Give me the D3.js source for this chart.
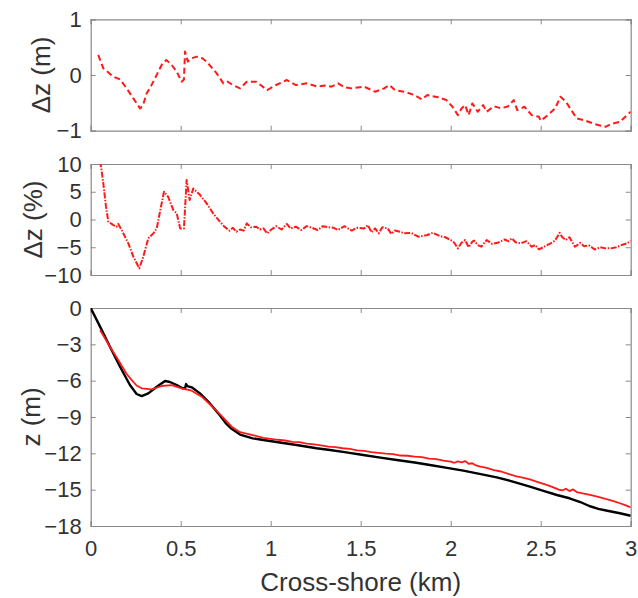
<!DOCTYPE html>
<html>
<head>
<meta charset="utf-8">
<script src="https://cdn.jsdelivr.net/npm/d3@7"></script>
<style>
	body { margin: 0; background: #fff; }
	svg { display: block; font-family: "Liberation Sans", Arial, sans-serif; }
</style>
</head>
<body>
<svg width="638" height="598"></svg>
<script>
// top panel: elevation difference (m)
const dzMetreKm = [0.042, 0.07, 0.1, 0.126, 0.163, 0.2, 0.237, 0.274, 0.29, 0.311, 0.335, 0.357, 0.394, 0.42, 0.45, 0.478, 0.49, 0.505, 0.518, 0.524, 0.54, 0.56, 0.589, 0.62, 0.644, 0.7, 0.737, 0.76, 0.79, 0.83, 0.867, 0.92, 0.98, 1.03, 1.09, 1.14, 1.2, 1.26, 1.3, 1.337, 1.374, 1.41, 1.45, 1.52, 1.58, 1.63, 1.66, 1.69, 1.74, 1.8, 1.84, 1.87, 1.93, 1.976, 2.01, 2.04, 2.06, 2.08, 2.1, 2.12, 2.15, 2.18, 2.2, 2.24, 2.28, 2.32, 2.35, 2.37, 2.41, 2.45, 2.49, 2.5, 2.54, 2.58, 2.61, 2.64, 2.67, 2.7, 2.74, 2.8, 2.86, 2.89, 2.94, 2.98, 3.0];
const dzMetre = [0.36, 0.12, 0.04, -0.03, -0.08, -0.24, -0.42, -0.6, -0.55, -0.33, -0.2, -0.06, 0.18, 0.27, 0.18, 0.06, -0.02, -0.12, -0.08, 0.42, 0.24, 0.3, 0.33, 0.3, 0.24, 0.03, -0.15, -0.12, -0.18, -0.24, -0.12, -0.12, -0.27, -0.18, -0.09, -0.18, -0.15, -0.21, -0.19, -0.21, -0.15, -0.22, -0.24, -0.21, -0.3, -0.24, -0.18, -0.27, -0.3, -0.36, -0.44, -0.36, -0.4, -0.45, -0.57, -0.72, -0.6, -0.54, -0.72, -0.51, -0.66, -0.54, -0.66, -0.56, -0.6, -0.56, -0.45, -0.63, -0.57, -0.72, -0.75, -0.82, -0.72, -0.6, -0.39, -0.48, -0.63, -0.78, -0.81, -0.88, -0.93, -0.88, -0.84, -0.72, -0.66];

// middle panel: elevation difference (%)
const dzPctKm = [0.052, 0.06, 0.07, 0.085, 0.098, 0.126, 0.144, 0.153, 0.172, 0.209, 0.237, 0.27, 0.292, 0.32, 0.348, 0.367, 0.385, 0.407, 0.43, 0.459, 0.478, 0.497, 0.518, 0.533, 0.55, 0.57, 0.608, 0.644, 0.68, 0.718, 0.74, 0.755, 0.77, 0.79, 0.81, 0.83, 0.85, 0.867, 0.89, 0.92, 0.94, 0.96, 0.98, 1.0, 1.03, 1.06, 1.09, 1.11, 1.14, 1.17, 1.2, 1.23, 1.26, 1.29, 1.32, 1.35, 1.374, 1.41, 1.45, 1.48, 1.52, 1.54, 1.56, 1.58, 1.6, 1.62, 1.65, 1.67, 1.69, 1.72, 1.74, 1.78, 1.82, 1.87, 1.9, 1.94, 1.97, 2.0, 2.02, 2.04, 2.06, 2.08, 2.1, 2.12, 2.13, 2.15, 2.17, 2.2, 2.23, 2.26, 2.3, 2.32, 2.34, 2.36, 2.39, 2.42, 2.45, 2.47, 2.49, 2.52, 2.56, 2.58, 2.605, 2.62, 2.64, 2.66, 2.69, 2.72, 2.74, 2.77, 2.8, 2.83, 2.86, 2.89, 2.92, 2.95, 2.98, 3.0];
const dzPct = [10.5, 9, 6.5, 2.3, -0.4, -1, -1.3, -0.8, -1.9, -4.3, -6.7, -8.8, -6.7, -3.4, -2.5, -1.6, 1.4, 5, 4.1, 1.7, 1.1, -1.6, -1.6, 7.1, 3.5, 5.6, 4.4, 2.9, 1.1, -0.4, -1.2, -1.6, -2.0, -1.5, -2.2, -1.8, -2.0, -0.7, -1.4, -1.3, -1.8, -1.6, -2.5, -1.9, -1.2, -1.8, -0.8, -1.6, -1.3, -1.9, -1.2, -1.5, -1.9, -1.2, -1.4, -1.5, -1.9, -1.2, -2, -1.5, -1.6, -1.0, -2.3, -1.6, -2.5, -1.4, -1.6, -2.6, -2.0, -2.2, -2.5, -2.4, -3.1, -2.8, -2.4, -3, -3.2, -3.7, -4.2, -5.2, -4.2, -3.7, -5, -4.0, -3.8, -4.6, -4.9, -3.7, -4.4, -4.2, -3.6, -3.9, -3.4, -4.1, -4.3, -3.9, -4.9, -4.6, -5.4, -4.9, -4.2, -3.8, -2.4, -3.2, -3.7, -3.2, -4.9, -4.2, -4.8, -4.7, -5.4, -5.0, -5.2, -5.2, -5.0, -4.6, -4.3, -3.8];

// bottom panel: profiles z (m)
const zBlackKm = [0, 0.052, 0.107, 0.163, 0.218, 0.255, 0.283, 0.32, 0.367, 0.413, 0.44, 0.478, 0.51, 0.524, 0.53, 0.537, 0.561, 0.607, 0.654, 0.709, 0.75, 0.783, 0.83, 0.9, 0.959, 1.07, 1.144, 1.255, 1.33, 1.42, 1.514, 1.6, 1.7, 1.8, 1.885, 1.98, 2.07, 2.16, 2.256, 2.35, 2.44, 2.52, 2.59, 2.66, 2.72, 2.77, 2.82, 2.87, 2.94, 3.0];
const zBlack = [0, -1.54, -3.2, -4.85, -6.36, -7.1, -7.27, -7.05, -6.5, -6.03, -6.11, -6.36, -6.63, -6.63, -6.28, -6.45, -6.55, -7.05, -7.74, -8.7, -9.5, -9.98, -10.45, -10.76, -10.9, -11.15, -11.31, -11.58, -11.73, -11.92, -12.14, -12.33, -12.55, -12.76, -12.96, -13.2, -13.43, -13.7, -13.98, -14.35, -14.75, -15.12, -15.44, -15.71, -16.02, -16.35, -16.58, -16.74, -16.95, -17.15];
const zRedKm = [0.052, 0.107, 0.153, 0.2, 0.228, 0.255, 0.283, 0.339, 0.394, 0.45, 0.505, 0.561, 0.617, 0.672, 0.728, 0.783, 0.83, 0.9, 0.959, 1.0, 1.04, 1.08, 1.12, 1.16, 1.2, 1.24, 1.28, 1.32, 1.36, 1.4, 1.44, 1.48, 1.52, 1.56, 1.6, 1.64, 1.68, 1.72, 1.76, 1.8, 1.84, 1.88, 1.92, 1.96, 2.0, 2.02, 2.04, 2.06, 2.08, 2.1, 2.12, 2.14, 2.16, 2.2, 2.24, 2.28, 2.32, 2.36, 2.4, 2.44, 2.48, 2.52, 2.56, 2.6, 2.62, 2.64, 2.66, 2.68, 2.7, 2.74, 2.78, 2.82, 2.86, 2.9, 2.94, 2.97, 3.0];
const zRed = [-1.82, -3.2, -4.3, -5.45, -5.95, -6.4, -6.63, -6.72, -6.44, -6.36, -6.63, -6.83, -7.32, -8.09, -8.92, -9.8, -10.25, -10.49, -10.72, -10.8, -10.88, -10.94, -11.05, -11.08, -11.2, -11.26, -11.34, -11.44, -11.48, -11.58, -11.64, -11.76, -11.8, -11.9, -11.96, -12.02, -12.06, -12.18, -12.2, -12.28, -12.32, -12.44, -12.48, -12.6, -12.68, -12.78, -12.66, -12.74, -12.64, -12.86, -12.82, -13.0, -13.08, -13.2, -13.38, -13.5, -13.7, -13.88, -14.0, -14.15, -14.35, -14.55, -14.75, -15.0, -15.06, -14.92, -15.12, -14.98, -15.2, -15.32, -15.46, -15.6, -15.76, -15.92, -16.12, -16.28, -16.46];

const xTicks = [0, 0.5, 1, 1.5, 2, 2.5, 3];
const xTickLabels = ["0", "0.5", "1", "1.5", "2", "2.5", "3"];

const svg = d3.select("svg");
const left = 90.7;
const right = 630.7;
const axisColor = "#8a8a8a";
const textColor = "#333";

const x = d3.scaleLinear().domain([0, 3]).range([left, right]);

const fmt = (d) => (d < 0 ? "\u2212" + Math.abs(d) : String(d));

const drawPanel = (props) => {
	const { id, top, bottom, domain, ticks, label, labelX, showX, series } = props;
	const y = d3.scaleLinear().domain(domain).range([bottom, top]);
	const g = svg.append("g");

	g.append("clipPath")
		.attr("id", id)
		.append("rect")
		.attr("x", left)
		.attr("y", top)
		.attr("width", right - left)
		.attr("height", bottom - top);

	// inward ticks on all four sides
	const yAxisL = d3.axisLeft(y).tickValues(ticks).tickSize(-5).tickPadding(9).tickFormat(fmt);
	const yAxisR = d3.axisRight(y).tickValues(ticks).tickSize(-5).tickFormat("");
	const xAxisB = d3.axisBottom(x).tickValues(xTicks).tickSize(-5).tickPadding(14)
		.tickFormat((d, i) => (showX ? xTickLabels[i] : ""));
	const xAxisT = d3.axisTop(x).tickValues(xTicks).tickSize(-5).tickFormat("");

	g.append("g").attr("transform", `translate(${left},0)`).call(yAxisL);
	g.append("g").attr("transform", `translate(${right},0)`).call(yAxisR);
	g.append("g").attr("transform", `translate(0,${bottom})`).call(xAxisB);
	g.append("g").attr("transform", `translate(0,${top})`).call(xAxisT);

	g.selectAll(".domain").attr("stroke", axisColor).attr("stroke-width", 1.2);
	g.selectAll(".tick line").attr("stroke", axisColor).attr("stroke-width", 1);
	g.selectAll(".tick text")
		.attr("fill", textColor)
		.style("font-size", "22px");

	const lines = g.append("g").attr("clip-path", `url(#${id})`);
	series.forEach((s) => {
		const pts = s.xs.map((v, i) => [v, s.ys[i]]);
		lines.append("path")
			.datum(pts)
			.attr("fill", "none")
			.attr("stroke", s.color)
			.attr("stroke-width", s.width)
			.attr("stroke-dasharray", s.dash)
			.attr("stroke-linejoin", "round")
			.attr("d", d3.line().x((d) => x(d[0])).y((d) => y(d[1])));
	});

	g.append("text")
		.attr("transform", `translate(${labelX},${(top + bottom) / 2}) rotate(-90)`)
		.attr("text-anchor", "middle")
		.attr("fill", textColor)
		.style("font-size", "26px")
		.text(label);
};

drawPanel({
	id: "clipTop",
	top: 19.3,
	bottom: 130.7,
	domain: [-1, 1],
	ticks: [-1, 0, 1],
	label: "\u0394z (m)",
	labelX: 50,
	showX: false,
	series: [{ xs: dzMetreKm, ys: dzMetre, color: "#ff1a1a", width: 2, dash: "6,3.5" }],
});

drawPanel({
	id: "clipMid",
	top: 164,
	bottom: 275,
	domain: [-10, 10],
	ticks: [-10, -5, 0, 5, 10],
	label: "\u0394z (%)",
	labelX: 41.5,
	showX: false,
	series: [{ xs: dzPctKm, ys: dzPct, color: "#ff1a1a", width: 2, dash: "6,1.5,1.5,1.5" }],
});

drawPanel({
	id: "clipBot",
	top: 308,
	bottom: 526,
	domain: [-18, 0],
	ticks: [-18, -15, -12, -9, -6, -3, 0],
	label: "z (m)",
	labelX: 40,
	showX: true,
	series: [
		{ xs: zBlackKm, ys: zBlack, color: "#000", width: 2.4, dash: null },
		{ xs: zRedKm, ys: zRed, color: "#ff1a1a", width: 1.8, dash: null },
	],
});

svg.append("text")
	.attr("x", x(1.5))
	.attr("y", 591)
	.attr("text-anchor", "middle")
	.attr("fill", textColor)
	.style("font-size", "26px")
	.text("Cross-shore (km)");
</script>
</body>
</html>
